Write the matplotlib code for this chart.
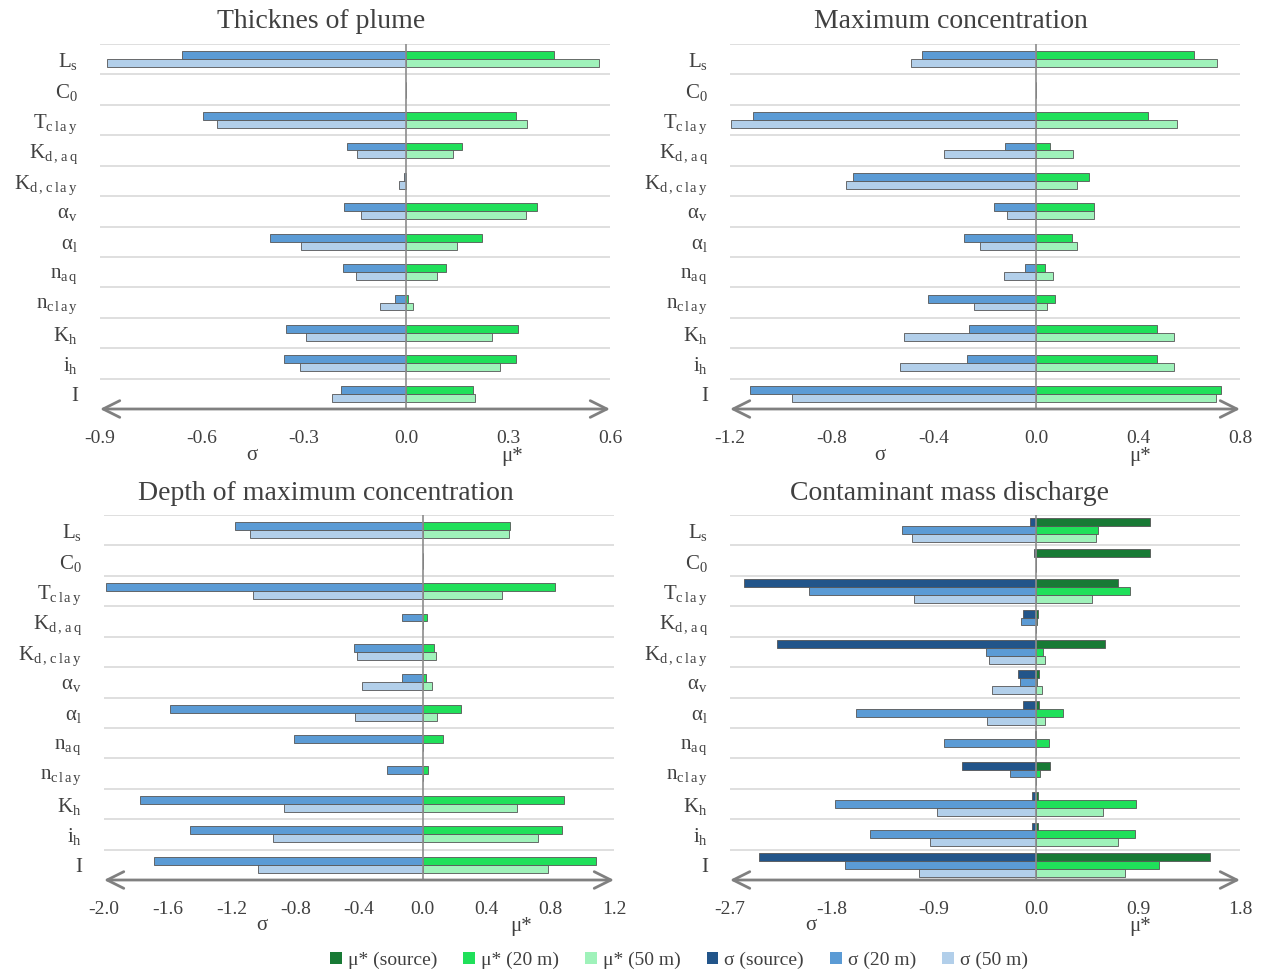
import numpy as np
import matplotlib.pyplot as plt
from matplotlib.patches import Patch

plt.rcParams['font.family'] = ['Liberation Serif', 'DejaVu Serif']
plt.rcParams['mathtext.fontset'] = 'custom'
plt.rcParams['mathtext.rm'] = 'Liberation Serif'
plt.rcParams['mathtext.it'] = 'Liberation Serif:italic'

params = [r'L$_\mathrm{s}$', r'C$_\mathrm{0}$', r'T$_\mathrm{c\,l\,a\,y}$',
          r'K$_\mathrm{d\,,\,a\,q}$', r'K$_\mathrm{d\,,\,c\,l\,a\,y}$',
          r'α$_\mathrm{v}$', r'α$_\mathrm{l}$', r'n$_\mathrm{a\,q}$',
          r'n$_\mathrm{c\,l\,a\,y}$', r'K$_\mathrm{h}$', r'i$_\mathrm{h}$', 'I']

# thickness of plume
thick_mu20 = [0.435, 0, 0.324, 0.164, 0, 0.385, 0.224, 0.118, 0.007, 0.330, 0.324, 0.197]
thick_mu50 = [0.568, 0, 0.357, 0.139, 0, 0.354, 0.151, 0.092, 0.020, 0.253, 0.277, 0.204]
thick_sd20 = [0.658, 0, 0.598, 0.174, 0.005, 0.181, 0.401, 0.184, 0.031, 0.354, 0.360, 0.191]
thick_sd50 = [0.880, 0, 0.555, 0.143, 0.020, 0.133, 0.309, 0.146, 0.077, 0.295, 0.312, 0.218]

# maximum concentration
maxc_mu20 = [0.620, 0, 0.440, 0.053, 0.207, 0.226, 0.142, 0.037, 0.073, 0.475, 0.475, 0.725]
maxc_mu50 = [0.709, 0, 0.551, 0.147, 0.159, 0.229, 0.159, 0.065, 0.045, 0.543, 0.543, 0.706]
maxc_sd20 = [0.449, 0, 1.111, 0.121, 0.717, 0.164, 0.284, 0.045, 0.424, 0.263, 0.269, 1.122]
maxc_sd50 = [0.491, 0, 1.197, 0.360, 0.746, 0.112, 0.220, 0.126, 0.242, 0.516, 0.534, 0.956]

# depth of maximum concentration
depth_mu20 = [0.550, 0, 0.829, 0.026, 0.069, 0.023, 0.241, 0.128, 0.036, 0.888, 0.872, 1.090]
depth_mu50 = [0.544, 0, 0.495, 0, 0.085, 0.056, 0.090, 0, 0, 0.593, 0.726, 0.785]
depth_sd20 = [1.180, 0, 1.990, 0.131, 0.434, 0.133, 1.583, 0.806, 0.224, 1.773, 1.460, 1.684]
depth_sd50 = [1.085, 0, 1.067, 0, 0.411, 0.382, 0.426, 0, 0, 0.870, 0.940, 1.032]

# contaminant mass discharge
mass_musrc = [1.006, 1.006, 0.723, 0.022, 0.611, 0.029, 0.029, 0.003, 0.126, 0.014, 0.014, 1.535]
mass_mu20 = [0.546, 0, 0.827, 0.011, 0.065, 0.011, 0.241, 0.119, 0.032, 0.884, 0.873, 1.086]
mass_mu50 = [0.532, 0, 0.496, 0, 0.079, 0.054, 0.083, 0, 0, 0.590, 0.723, 0.784]
mass_sdsrc = [0.054, 0.014, 2.577, 0.115, 2.286, 0.155, 0.115, 0.007, 0.651, 0.032, 0.032, 2.444]
mass_sd20 = [1.183, 0, 2.006, 0.129, 0.439, 0.137, 1.592, 0.812, 0.230, 1.776, 1.463, 1.686]
mass_sd50 = [1.093, 0, 1.075, 0, 0.413, 0.385, 0.431, 0, 0, 0.873, 0.938, 1.035]

series_names = ['μ* (source)', 'μ* (20 m)', 'μ* (50 m)', 'σ (source)', 'σ (20 m)', 'σ (50 m)']
colors = ['#187a35', '#20e05a', '#9ff2ba', '#22558a', '#5b9bd5', '#b2cfea']

W, H = 1266, 976
fig = plt.figure(figsize=(W / 100, H / 100), dpi=100)


def px_axes(l, r, t, b):
    return fig.add_axes([l / W, 1 - b / H, (r - l) / W, (b - t) / H])


def panel(ax, title, title_xy, sig_xy, mu_xy, lim, step,
          mu_src, mu20, mu50, sd_src, sd20, sd50):
    y = np.arange(len(params))
    h = 0.26
    if mu_src is None:
        data = [(None, None, 0), (mu20, sd20, -h / 2), (mu50, sd50, h / 2)]
    else:
        data = [(mu_src, sd_src, -h), (mu20, sd20, 0), (mu50, sd50, h)]
    for k, (mu, sd, off) in enumerate(data):
        if mu is None:
            continue
        ax.barh(y + off, mu, height=h, color=colors[k], edgecolor='#555555',
                linewidth=0.6, zorder=2)
        ax.barh(y + off, -np.array(sd), height=h, color=colors[k + 3],
                edgecolor='#555555', linewidth=0.6, zorder=2)
    for g in y:
        ax.axhline(g - 0.5, color='#d9d9d9', lw=1.2, zorder=1)
    ax.axvline(0, color='#8c8c8c', lw=1.2, zorder=3)
    ax.set_ylim(len(params) - 0.5, -0.5)
    ax.set_xlim(lim[0], lim[1])
    ticks = np.arange(lim[0], lim[1] + step / 2, step)
    ax.set_xticks(ticks)
    ax.set_xticklabels(['%.1f' % abs(t) if abs(t) < 1e-9 else '%.1f' % t for t in ticks],
                       fontsize=14, color='#404040')
    ax.set_yticks(y)
    ax.set_yticklabels(params, fontsize=15, color='#404040')
    ax.tick_params(axis='both', length=0)
    ax.tick_params(axis='x', pad=15)
    ax.tick_params(axis='y', pad=16)
    for s in ax.spines.values():
        s.set_visible(False)
    ax.annotate('', xy=(0, 0), xycoords='axes fraction', xytext=(1, 0),
                textcoords='axes fraction',
                arrowprops=dict(arrowstyle='<->', color='#808080', lw=2,
                                mutation_scale=30, shrinkA=0, shrinkB=0))
    fig.text(title_xy[0] / W, 1 - title_xy[1] / H, title, fontsize=20,
             color='#404040', ha='center', va='center')
    fig.text(sig_xy[0] / W, 1 - sig_xy[1] / H, 'σ', fontsize=15,
             color='#404040', ha='center', va='center')
    fig.text(mu_xy[0] / W, 1 - mu_xy[1] / H, 'μ*', fontsize=15,
             color='#404040', ha='center', va='center')


ax1 = px_axes(100, 610, 44, 409)
panel(ax1, 'Thicknes of plume', (321, 21), (252, 456), (512, 456), (-0.9, 0.6), 0.3,
      None, thick_mu20, thick_mu50, None, thick_sd20, thick_sd50)

ax2 = px_axes(730, 1240, 44, 409)
panel(ax2, 'Maximum concentration', (951, 21), (880, 456), (1140, 456), (-1.2, 0.8), 0.4,
      None, maxc_mu20, maxc_mu50, None, maxc_sd20, maxc_sd50)

ax3 = px_axes(104, 614, 515, 880)
panel(ax3, 'Depth of maximum concentration', (326, 493), (262, 926), (521, 926), (-2.0, 1.2), 0.4,
      None, depth_mu20, depth_mu50, None, depth_sd20, depth_sd50)

ax4 = px_axes(730, 1240, 515, 880)
panel(ax4, 'Contaminant mass discharge', (950, 493), (811, 926), (1140, 926), (-2.7, 1.8), 0.9,
      mass_musrc, mass_mu20, mass_mu50, mass_sdsrc, mass_sd20, mass_sd50)

handles = [Patch(facecolor=c, edgecolor='none') for c in colors]
fig.legend(handles, series_names, loc='center', bbox_to_anchor=(679 / W, 1 - 960 / H),
           ncol=6, frameon=False, fontsize=14, handlelength=0.6, handleheight=0.6,
           handletextpad=0.3, columnspacing=1.35, labelcolor='#404040')

fig.savefig('out.png', dpi=100)
